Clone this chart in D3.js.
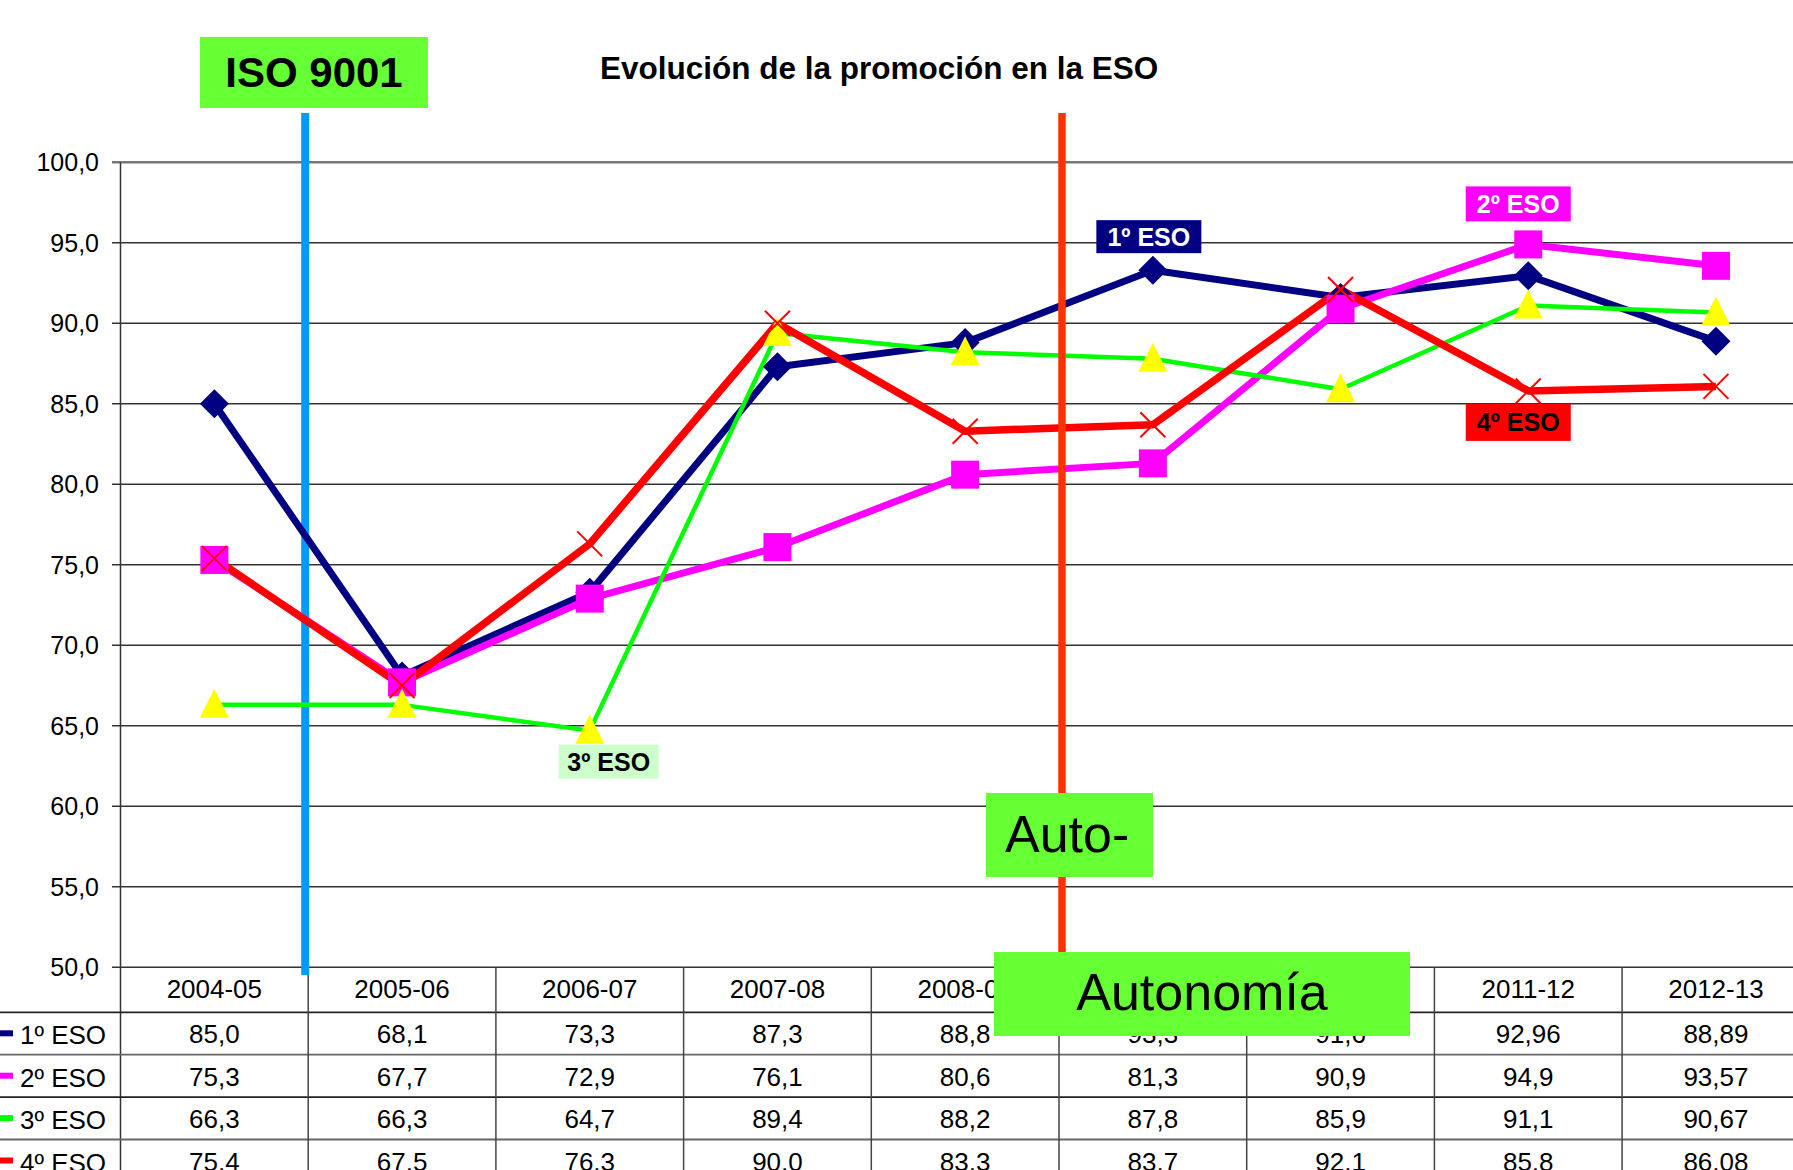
<!DOCTYPE html>
<html>
<head>
<meta charset="utf-8">
<script src="https://cdn.jsdelivr.net/npm/d3@7/dist/d3.min.js"></script>
<style>
  body { margin: 0; background: #fff; }
  text { font-family: "Liberation Sans", Arial, sans-serif; }
</style>
</head>
<body>
<div id="chart"></div>
<script>
// 1. Data (promotion rate, %)

const years = ["2004-05", "2005-06", "2006-07", "2007-08", "2008-09",
               "2009-10", "2010-11", "2011-12", "2012-13"];

const seriesNames = ["1º ESO", "2º ESO", "3º ESO", "4º ESO"];

const eso1 = [85.0, 68.1, 73.3, 87.3, 88.8, 93.3, 91.6, 92.96, 88.89];
const eso2 = [75.3, 67.7, 72.9, 76.1, 80.6, 81.3, 90.9, 94.9, 93.57];
const eso3 = [66.3, 66.3, 64.7, 89.4, 88.2, 87.8, 85.9, 91.1, 90.67];
const eso4 = [75.4, 67.5, 76.3, 90.0, 83.3, 83.7, 92.1, 85.8, 86.08];

const yTicks = [50, 55, 60, 65, 70, 75, 80, 85, 90, 95, 100];

const chartTitle = "Evolución de la promoción en la ESO";

// 2. SVG canvas

const width = 1793, height = 1170;

const svg = d3.select("div#chart")
    .append("svg")
    .attr("width", width)
    .attr("height", height)
    .style("background-color", "#fff");

const g = svg.append("g");

// category band = one table column, value axis 50..100
const x = d3.scaleBand()
    .domain(years)
    .range([120.5, 120.5 + years.length * 187.7]);

const y = d3.scaleLinear()
    .domain([50, 100])
    .range([967.3, 162.3]);

const cx = d => x(d) + x.bandwidth() / 2;

// numbers printed with a comma, 1 or 2 decimals as in the source table
function fmt(v) {
    const s = Math.abs(v * 10 - Math.round(v * 10)) < 1e-6 ? v.toFixed(1) : v.toFixed(2);
    return s.replace(".", ",");
}

const series = [
    { name: seriesNames[0], values: eso1, color: "#000080", width: 7,   marker: "diamond" },
    { name: seriesNames[1], values: eso2, color: "#ff00ff", width: 7,   marker: "square" },
    { name: seriesNames[2], values: eso3, color: "#00ff00", width: 4.5, marker: "triangle" },
    { name: seriesNames[3], values: eso4, color: "#ff0000", width: 7.5, marker: "cross" }
];

// 3. Grid lines and value axis

g.selectAll("line.grid")
    .data(yTicks)
    .join("line")
    .attr("class", "grid")
    .attr("x1", 112)
    .attr("x2", width)
    .attr("y1", d => y(d))
    .attr("y2", d => y(d))
    .attr("stroke", d => d === 100 ? "#777" : "#333")
    .attr("stroke-width", d => d === 100 ? 2.5 : 1.5);

g.selectAll("text.ytick")
    .data(yTicks)
    .join("text")
    .attr("class", "ytick")
    .attr("x", 99)
    .attr("y", d => y(d) + 9)
    .attr("text-anchor", "end")
    .attr("font-size", 25)
    .attr("fill", "#000")
    .text(fmt);

g.append("line")
    .attr("x1", x.range()[0]).attr("x2", x.range()[0])
    .attr("y1", y(100)).attr("y2", height)
    .attr("stroke", "#333")
    .attr("stroke-width", 1.5);

// 4. Data table under the plot

const headerTop = y(50), headerH = 45, rowH = 42.4;
const rowTops = seriesNames.map((d, i) => headerTop + headerH + i * rowH);

g.selectAll("line.row")
    .data(rowTops)
    .join("line")
    .attr("class", "row")
    .attr("x1", 0).attr("x2", width)
    .attr("y1", d => d).attr("y2", d => d)
    .attr("stroke", (d, i) => i % 2 ? "#666" : "#222")
    .attr("stroke-width", 1.8);

g.selectAll("line.col")
    .data(years)
    .join("line")
    .attr("class", "col")
    .attr("x1", d => x(d) + x.bandwidth()).attr("x2", d => x(d) + x.bandwidth())
    .attr("y1", headerTop).attr("y2", height)
    .attr("stroke", "#444")
    .attr("stroke-width", 1.5);

g.selectAll("text.year")
    .data(years)
    .join("text")
    .attr("class", "year")
    .attr("x", cx)
    .attr("y", headerTop + 31)
    .attr("text-anchor", "middle")
    .attr("font-size", 26)
    .text(d => d);

series.forEach(function (s, i) {
    const top = rowTops[i];
    g.append("rect")
        .attr("x", 0).attr("y", top + 18)
        .attr("width", 13).attr("height", 6)
        .attr("fill", s.color);
    g.append("text")
        .attr("x", 20).attr("y", top + 32)
        .attr("font-size", 26)
        .text(s.name);
    g.selectAll(null)
        .data(s.values)
        .join("text")
        .attr("x", (d, j) => cx(years[j]))
        .attr("y", top + 31)
        .attr("text-anchor", "middle")
        .attr("font-size", 26)
        .text(fmt);
});

// 5. Milestone lines (ISO 9001, Autonomía)

const isoX = x(years[1]) - 3;
const autoX = x(years[5]) + 3;

g.append("line")
    .attr("x1", isoX).attr("x2", isoX)
    .attr("y1", 113).attr("y2", 975)
    .attr("stroke", "#0099ff")
    .attr("stroke-width", 8);

// 6. Series lines, then markers

const line = d3.line()
    .x((d, j) => cx(years[j]))
    .y(d => y(d));

series.forEach(function (s) {
    g.append("path")
        .datum(s.values)
        .attr("d", line)
        .attr("fill", "none")
        .attr("stroke", s.color)
        .attr("stroke-width", s.width)
        .attr("stroke-linejoin", "round");
});

g.append("line")
    .attr("x1", autoX).attr("x2", autoX)
    .attr("y1", 113).attr("y2", 990)
    .attr("stroke", "#ff3300")
    .attr("stroke-width", 7.5);

series.forEach(function (s) {
    const pts = g.selectAll(null)
        .data(s.values)
        .join("g")
        .attr("transform", (d, j) => "translate(" + cx(years[j]) + "," + y(d) + ")");
    if (s.marker === "diamond") {
        pts.append("path").attr("d", "M0,-14.5L14.5,0L0,14.5L-14.5,0Z").attr("fill", s.color);
    } else if (s.marker === "square") {
        pts.append("rect").attr("x", -14).attr("y", -14).attr("width", 28).attr("height", 28).attr("fill", s.color);
    } else if (s.marker === "triangle") {
        pts.append("path").attr("d", "M0,-16L14.5,13L-14.5,13Z").attr("fill", "#ffff00");
    } else {
        pts.append("path").attr("d", "M-12.5,-12.5L12.5,12.5M-12.5,12.5L12.5,-12.5")
            .attr("stroke", s.color).attr("stroke-width", 2).attr("fill", "none");
    }
});

// 7. Series name tags placed next to a point of each series

function tag(text, px, py, dx, top, w, h, bg, fg) {
    const left = px + dx - w / 2;
    g.append("rect").attr("x", left).attr("y", top).attr("width", w).attr("height", h).attr("fill", bg);
    g.append("text")
        .attr("x", left + w / 2).attr("y", top + h / 2 + 9)
        .attr("text-anchor", "middle")
        .attr("font-size", 25).attr("font-weight", "bold")
        .attr("fill", fg)
        .text(text);
}

tag(seriesNames[0], cx(years[5]), y(eso1[5]), -4, y(eso1[5]) - 50, 105, 33, "#000080", "#fff");
tag(seriesNames[1], cx(years[7]), y(eso2[7]), -10, y(eso2[7]) - 58, 105, 35, "#ff00ff", "#fff");
tag(seriesNames[2], cx(years[2]), y(eso3[2]), 19, y(eso3[2]) + 14, 100, 34, "#ccffcc", "#000");
tag(seriesNames[3], cx(years[7]), y(eso4[7]), -10, y(eso4[7]) + 13, 105, 37, "#ff0000", "#000");

// 8. Title and green milestone boxes

g.append("text")
    .attr("x", 600).attr("y", 79)
    .attr("font-size", 31.5).attr("font-weight", "bold")
    .text(chartTitle);

g.append("rect").attr("x", 200).attr("y", 37).attr("width", 228).attr("height", 71).attr("fill", "#66ff33");
g.append("text")
    .attr("x", 314).attr("y", 87)
    .attr("text-anchor", "middle")
    .attr("font-size", 42).attr("font-weight", "bold")
    .text("ISO 9001");

g.append("rect").attr("x", 986).attr("y", 793).attr("width", 167).attr("height", 84).attr("fill", "#66ff33");
g.append("text")
    .attr("x", 1005).attr("y", 852)
    .attr("font-size", 52)
    .text("Auto-");

g.append("rect").attr("x", 994).attr("y", 952).attr("width", 416).attr("height", 84).attr("fill", "#66ff33");
g.append("text")
    .attr("x", 1202).attr("y", 1010)
    .attr("text-anchor", "middle")
    .attr("font-size", 52)
    .text("Autonomía");
</script>
</body>
</html>
